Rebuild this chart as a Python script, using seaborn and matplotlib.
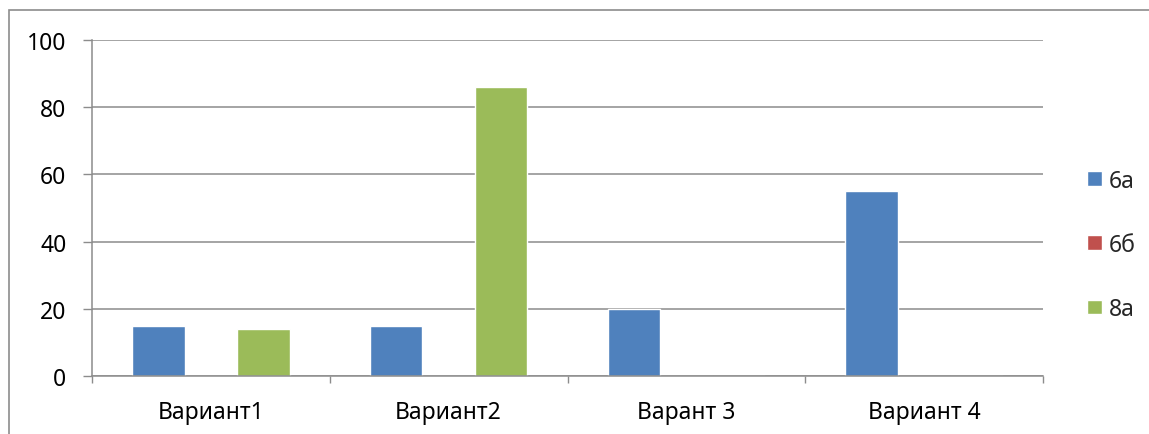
import matplotlib
matplotlib.use('Agg')
import pandas as pd
import matplotlib.pyplot as plt
from matplotlib.patches import Rectangle
import seaborn as sns

# === DONNÉES ===
variants = ["Вариант1", "Вариант2", "Варант 3", "Вариант 4"]
groupes = ["6а", "6б", "8а"]
val_6a = [15, 15, 20, 55]
val_6b = [0, 0, 0, 0]
val_8a = [14, 86, 0, 0]

palette = {"6а": "#4F81BD", "6б": "#C0504D", "8а": "#9BBB59"}

df = pd.DataFrame({
    "variant": variants * 3,
    "groupe": ["6а"] * 4 + ["6б"] * 4 + ["8а"] * 4,
    "valeur": val_6a + val_6b + val_8a,
})

# === VISUALISATION ===
sns.set_theme(style="white")
plt.rcParams['font.family'] = ['Noto Sans', 'DejaVu Sans']

W, H = 1149, 435
fig = plt.figure(figsize=(W / 100, H / 100), dpi=100)
ax = fig.add_axes([92 / W, 1 - 377 / H, (1043 - 92) / W, (377 - 41) / H])

sns.barplot(data=df, x="variant", y="valeur", hue="groupe", hue_order=groupes,
            order=variants, palette=palette, width=0.6625, gap=0, dodge=True,
            saturation=1, ax=ax, legend=True)

grid_col = "#8c8c8c"
ax.set_ylim(0, 100)
ax.set_xlim(-0.5, 3.5)
ax.set_yticks(range(0, 101, 20))
ax.yaxis.grid(True, color=grid_col, linewidth=1.1)
ax.set_axisbelow(True)
ax.set_xlabel("")
ax.set_ylabel("")

for s in ["top", "right"]:
    ax.spines[s].set_visible(False)
for s in ["left", "bottom"]:
    ax.spines[s].set_color(grid_col)
    ax.spines[s].set_linewidth(1.1)

ax.tick_params(axis="y", length=6.5, width=1, color=grid_col, pad=12,
               labelsize=16.5, labelcolor="black", left=True)
ax.tick_params(axis="x", which="major", length=0, pad=17, labelsize=16.5,
               labelcolor="black")
ax.set_xticks([-0.5, 0.5, 1.5, 2.5, 3.5], minor=True)
ax.tick_params(axis="x", which="minor", length=5, width=1, color=grid_col,
               bottom=True)

ax.legend(title=None, frameon=False, loc="center left",
          bbox_to_anchor=(1.025, 0.39), fontsize=16.5, labelspacing=1.75,
          handlelength=0.62, handleheight=0.62, handletextpad=0.3)

# cadre du graphique
fig.patches.append(Rectangle((9 / W, -0.1), 1.2, 1.1 - 11 / H,
                             transform=fig.transFigure, fill=False,
                             edgecolor="#8c8c8c", linewidth=1.2))

fig.savefig("out.png", dpi=100)
